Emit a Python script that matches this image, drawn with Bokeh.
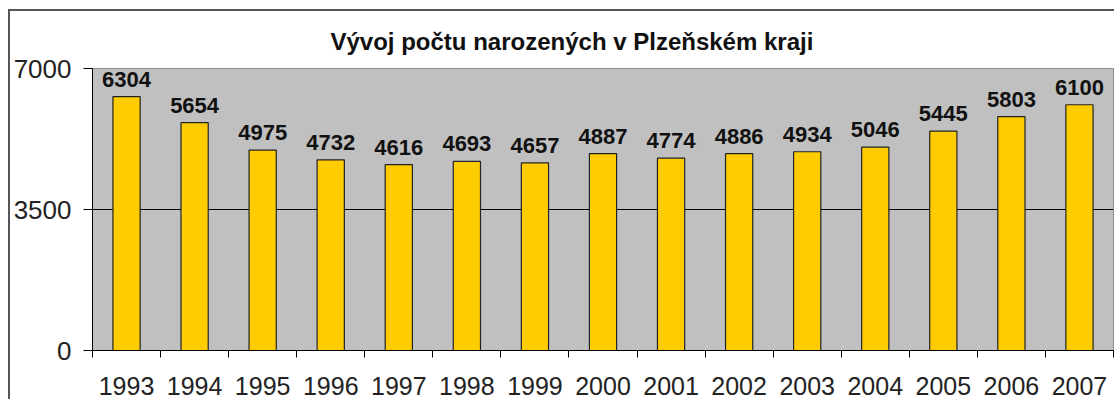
from bokeh.plotting import figure
from bokeh.models import ColumnDataSource, Range1d, FixedTicker
from bokeh.embed import file_html
from bokeh.resources import INLINE

years = [1993, 1994, 1995, 1996, 1997, 1998, 1999, 2000, 2001, 2002, 2003, 2004, 2005, 2006, 2007]
births = [6304, 5654, 4975, 4732, 4616, 4693, 4657, 4887, 4774, 4886, 4934, 5046, 5445, 5803, 6100]
y_ticks = [0, 3500, 7000]
title_text = "Vývoj počtu narozených v Plzeňském kraji"

xs = [i + 0.5 for i in range(len(years))]
src = ColumnDataSource(dict(x=xs, top=births, label=[str(b) for b in births]))

FONT = "Liberation Sans"

p = figure(width=1106, height=390, output_backend="svg", toolbar_location=None,
           x_range=Range1d(0, len(years)), y_range=Range1d(0, y_ticks[-1]),
           min_border_left=82, min_border_right=3, min_border_top=57, min_border_bottom=51)
p.styles = {"border-left": "2px solid #555", "border-top": "2px solid #555",
            "margin-top": "9px", "margin-left": "8px"}

p.background_fill_color = "#C0C0C0"
p.border_fill_color = "white"
p.outline_line_color = "#8c8c8c"
p.outline_line_width = 1

p.title.text = title_text
p.title.text_font = FONT
p.title.text_font_size = "24px"
p.title.text_font_style = "bold"
p.title.text_color = "#111"
p.title.align = "left"
p.title.offset = 238
p.title.standoff = 27

p.vbar(x="x", top="top", width=0.4, bottom=0, source=src,
       fill_color="#FFCC00", line_color="#222", line_width=1.2)

p.text(x="x", y="top", text="label", source=src, text_align="center",
       text_baseline="bottom", y_offset=-10, text_font_size="22px",
       text_font_style="bold", text_color="#111",
       text_font={"value": FONT})

# grid
p.xgrid.visible = False
p.ygrid.ticker = FixedTicker(ticks=y_ticks)
p.ygrid.grid_line_color = "black"
p.ygrid.grid_line_width = 1

# y axis
p.yaxis.ticker = FixedTicker(ticks=y_ticks)
p.yaxis.axis_line_color = "black"
p.yaxis.major_tick_line_color = "black"
p.yaxis.major_tick_in = 0
p.yaxis.major_tick_out = 9
p.yaxis.minor_tick_line_color = None
p.yaxis.major_label_text_font = FONT
p.yaxis.major_label_text_font_size = "26px"
p.yaxis.major_label_text_color = "#222"
p.yaxis.major_label_standoff = 12

# x axis: labels at category centres, ticks between categories
p.xaxis.ticker = FixedTicker(ticks=xs, minor_ticks=list(range(len(years) + 1)))
p.xaxis.major_label_overrides = {x: str(y) for x, y in zip(xs, years)}
p.xaxis.axis_line_color = "black"
p.xaxis.major_tick_in = 0
p.xaxis.major_tick_out = 0
p.xaxis.minor_tick_in = 0
p.xaxis.minor_tick_out = 7
p.xaxis.minor_tick_line_color = "black"
p.xaxis.major_label_text_font = FONT
p.xaxis.major_label_text_font_size = "25px"
p.xaxis.major_label_text_color = "#222"
p.xaxis.major_label_standoff = 19

open("out.html", "w").write(file_html(p, INLINE))
